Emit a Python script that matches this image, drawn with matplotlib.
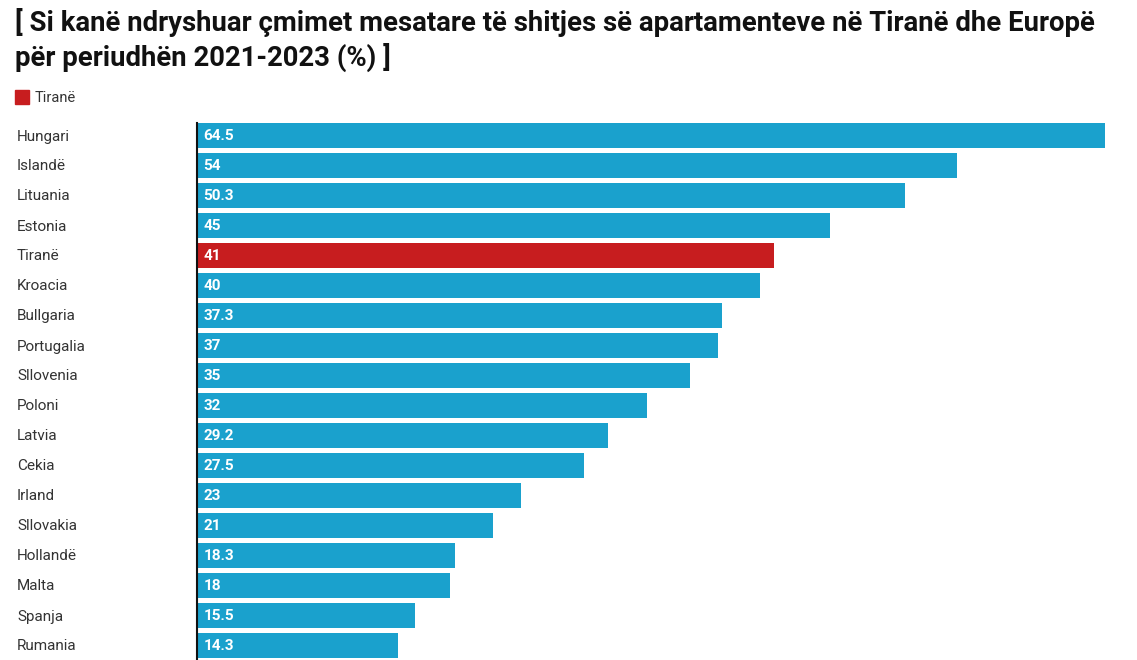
import matplotlib.pyplot as plt
from matplotlib.patches import Rectangle

# te dhenat
vendet = ['Hungari', 'Islandë', 'Lituania', 'Estonia', 'Tiranë', 'Kroacia',
          'Bullgaria', 'Portugalia', 'Sllovenia', 'Poloni', 'Latvia', 'Cekia',
          'Irland', 'Sllovakia', 'Hollandë', 'Malta', 'Spanja', 'Rumania']
vlerat = [64.5, 54, 50.3, 45, 41, 40, 37.3, 37, 35, 32, 29.2, 27.5,
          23, 21, 18.3, 18, 15.5, 14.3]
etiketat = ['64.5', '54', '50.3', '45', '41', '40', '37.3', '37', '35', '32',
            '29.2', '27.5', '23', '21', '18.3', '18', '15.5', '14.3']

blu = '#1aa1cd'
kuq = '#c71d1f'
ngjyrat = [kuq if v == 'Tiranë' else blu for v in vendet]

plt.rcParams['font.family'] = ['Roboto', 'DejaVu Sans']

W, H = 1137, 660
fig = plt.figure(figsize=(W / 100, H / 100), dpi=100)

# ax: nga x=197 deri 1105, y nga 120.5 deri 660
ax = fig.add_axes([197 / W, 0, (1105 - 197) / W, (660 - 120.5) / H])
y = list(range(len(vendet)))
ax.barh(y, vlerat, height=25 / 30, color=ngjyrat)
ax.set_xlim(0, 64.5)
ax.set_ylim(len(vendet) - 0.5, -0.5)

for i, (v, t) in enumerate(zip(vlerat, etiketat)):
    ax.text(0.45, i + 0.03, t, color='white', fontweight='bold', fontsize=11,
            va='center', ha='left')

ax.set_yticks(y)
ax.set_yticklabels([])
ax.set_xticks([])
for s in ['top', 'right', 'bottom']:
    ax.spines[s].set_visible(False)
ax.spines['left'].set_color('#111111')
ax.spines['left'].set_linewidth(1.5)
ax.spines['left'].set_bounds(len(vendet) - 0.5, -0.42)
ax.tick_params(left=False)

# emrat e vendeve ne te majte
for i, emri in enumerate(vendet):
    yy = 1 - (136.5 + 30 * i) / H
    fig.text(17 / W, yy, emri, fontsize=11, color='#333333',
             va='center', ha='left')

# titulli
fig.text(15 / W, 1 - 8 / H,
         '[ Si kanë ndryshuar çmimet mesatare të shitjes së apartamenteve në Tiranë dhe Europë\npër periudhën 2021-2023 (%) ]',
         fontsize=19.8, fontweight='bold', color='#111111', va='top', ha='left',
         linespacing=1.25)

# legjenda
fig.patches.append(Rectangle((15 / W, 1 - 104 / H), 14 / W, 14 / H,
                             transform=fig.transFigure, color=kuq))
fig.text(35 / W, 1 - 97.5 / H, 'Tiranë', fontsize=10.5, color='#333333',
         va='center', ha='left')

fig.savefig('out.png', dpi=100)
